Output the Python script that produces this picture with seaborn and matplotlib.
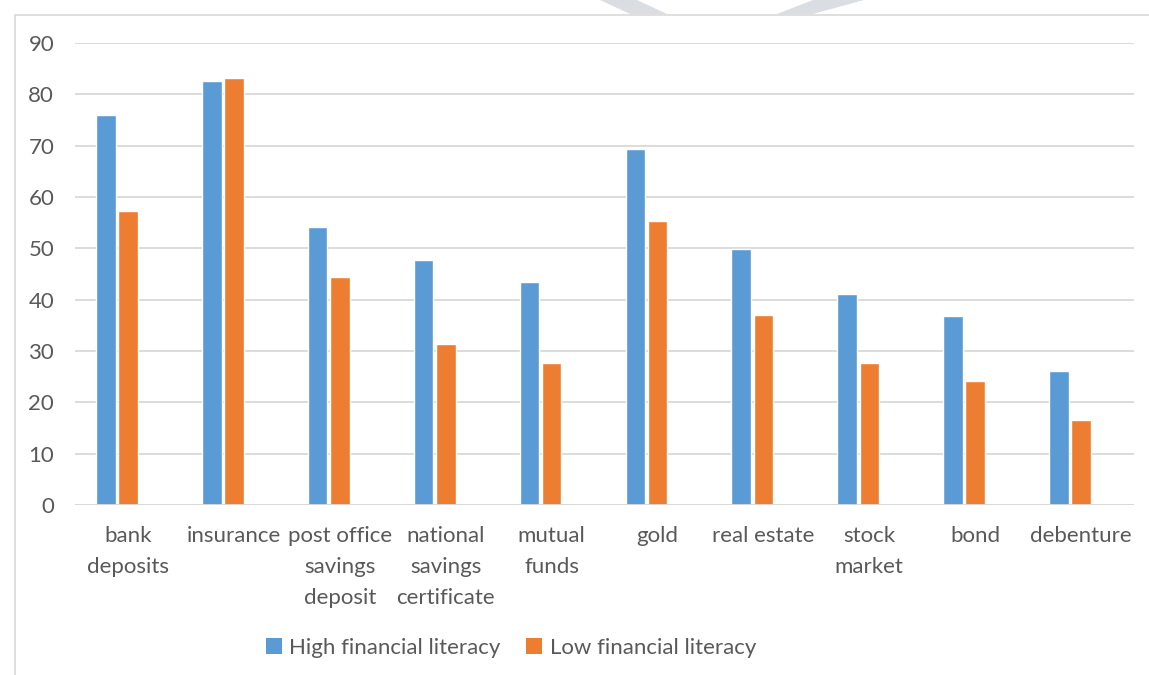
import matplotlib
matplotlib.use("Agg")
import matplotlib.pyplot as plt
from matplotlib.patches import Rectangle, Polygon
import seaborn as sns
import pandas as pd

categories = ["bank\ndeposits", "insurance", "post office\nsavings\ndeposit",
              "national\nsavings\ncertificate", "mutual\nfunds", "gold",
              "real estate", "stock\nmarket", "bond", "debenture"]
high_literacy = [76.0, 82.6, 54.2, 47.7, 43.4, 69.4, 49.9, 41.2, 36.8, 26.1]
low_literacy = [57.3, 83.1, 44.4, 31.3, 27.6, 55.4, 37.0, 27.6, 24.1, 16.5]
series_names = ["High financial literacy", "Low financial literacy"]
y_ticks = [0, 10, 20, 30, 40, 50, 60, 70, 80, 90]

BLUE = "#5B9BD5"
ORANGE = "#ED7D31"
GRID = "#D9D9D9"
TEXT = "#595959"
FS = 16
BAR_SHIFT = 0.104  # bar pairs sit slightly left of their category centre

df = pd.DataFrame({
    "category": categories * 2,
    "value": high_literacy + low_literacy,
    "series": [series_names[0]] * len(categories) + [series_names[1]] * len(categories),
})

sns.set_theme(style="white")
plt.rcParams["font.family"] = ["Lato", "DejaVu Sans"]

fig = plt.figure(figsize=(11.49, 6.75), dpi=100)
ax = fig.add_axes([75 / 1149, 1 - 505 / 675, (1134 - 75) / 1149, (505 - 43) / 675])

sns.barplot(data=df, x="category", y="value", hue="series", hue_order=series_names,
            order=categories, palette=[BLUE, ORANGE], width=0.42, gap=0.12,
            saturation=1, ax=ax, legend=False, zorder=3)

ax.set_ylim(0, 90)
ax.set_xlim(-0.5 + BAR_SHIFT, len(categories) - 0.5 + BAR_SHIFT)
ax.set_xticks([i + BAR_SHIFT for i in range(len(categories))])
ax.set_xticklabels(categories)
ax.set_yticks(y_ticks)
ax.set_yticklabels([str(t) for t in y_ticks])
ax.set_xlabel("")
ax.set_ylabel("")
for s in ax.spines.values():
    s.set_visible(False)
ax.grid(axis="y", color=GRID, linewidth=1.3, zorder=0)
ax.grid(axis="x", visible=False)
ax.axhline(0, color=GRID, linewidth=1.3, zorder=4)
ax.tick_params(axis="y", length=0, pad=15, labelsize=FS, labelcolor=TEXT)
ax.tick_params(axis="x", length=0, pad=15, labelsize=FS, labelcolor=TEXT)
for lbl in ax.get_xticklabels():
    lbl.set_linespacing(1.7)

handles = [Rectangle((0, 0), 1, 1, facecolor=c, edgecolor="none") for c in (BLUE, ORANGE)]
fig.legend(handles, series_names, loc="center", bbox_to_anchor=(511 / 1149, 1 - 648 / 675),
           ncol=2, frameon=False, fontsize=FS, labelcolor=TEXT,
           handlelength=0.7, handleheight=0.7, handletextpad=0.35, columnspacing=1.15)

# chart area frame
fig.patches.append(Rectangle((15 / 1149, -0.1), 1.2, 1 - 15 / 675 + 0.1,
                             transform=fig.transFigure, fill=False,
                             edgecolor=GRID, linewidth=1.2))

# faint page marks along the top edge
H = 675.0
W = 1149.0
for pts in ([(600, 0), (637, 0), (667, 14), (630, 14)],
            [(813, 0), (864, 0), (813, 14), (777, 14)]):
    fig.patches.append(Polygon([(x / W, 1 - y / H) for x, y in pts],
                               transform=fig.transFigure, closed=True,
                               facecolor="#DADEE2", edgecolor="none"))

fig.savefig("out.png", dpi=100)
